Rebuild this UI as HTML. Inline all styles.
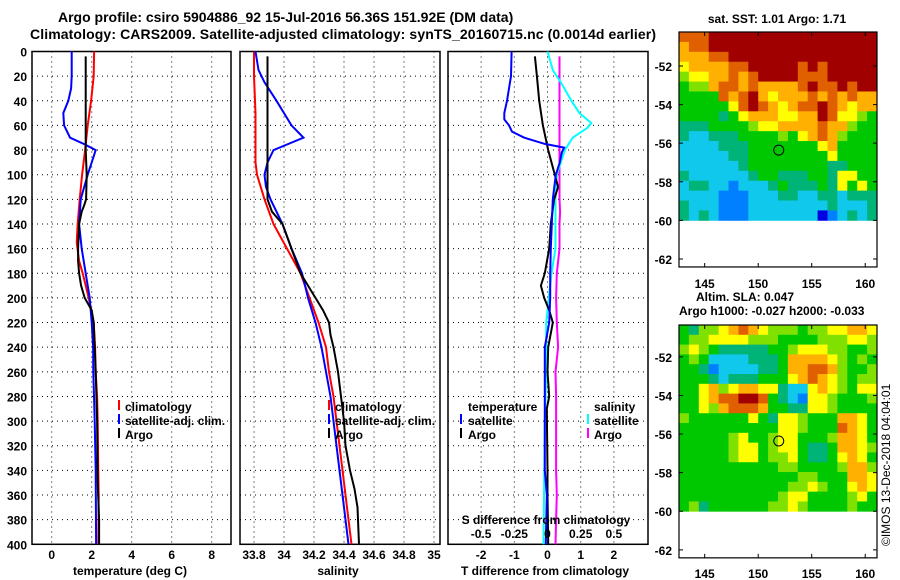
<!DOCTYPE html>
<html><head><meta charset="utf-8"><style>
body{margin:0;background:#fff;}
svg{display:block;font-family:"Liberation Sans",Arial,sans-serif;font-weight:bold;}
</style></head><body>
<svg id="svg" width="900" height="580" viewBox="0 0 900 580">
<text x="58" y="22" font-size="14">Argo profile: csiro 5904886_92 15-Jul-2016 56.36S 151.92E (DM data)</text>
<text x="30" y="39" font-size="14" textLength="626">Climatology: CARS2009. Satellite-adjusted climatology: synTS_20160715.nc (0.0014d earlier)</text>
<g id="grids"></g>
<g id="curves"></g>
<g id="labels" font-size="12"></g>
<text x="130" y="575" font-size="12" text-anchor="middle">temperature (deg C)</text>
<text x="338" y="575" font-size="12" text-anchor="middle">salinity</text>
<text x="545" y="575" font-size="12" text-anchor="middle">T difference from climatology</text>
<text x="546" y="524" font-size="12" text-anchor="middle">S difference from climatology</text>
<!-- legends -->
<g font-size="12">
<rect x="118" y="400" width="2" height="10" fill="#f00"/><text x="125" y="411">climatology</text>
<rect x="118" y="414" width="2" height="10" fill="#00f"/><text x="125" y="425">satellite-adj. clim.</text>
<rect x="118" y="428" width="2" height="10" fill="#000"/><text x="125" y="439">Argo</text>
</g>
<g font-size="12">
<rect x="328" y="400" width="2" height="10" fill="#f00"/><text x="335" y="411">climatology</text>
<rect x="328" y="414" width="2" height="10" fill="#00f"/><text x="335" y="425">satellite-adj. clim.</text>
<rect x="328" y="428" width="2" height="10" fill="#000"/><text x="335" y="439">Argo</text>
</g>
<g font-size="12">
<text x="468" y="411">temperature</text>
<rect x="460" y="414" width="2" height="10" fill="#00f"/><text x="468" y="425">satellite</text>
<rect x="460" y="428" width="2" height="10" fill="#000"/><text x="468" y="439">Argo</text>
<text x="594" y="411">salinity</text>
<rect x="587" y="414" width="2" height="10" fill="#0ff"/><text x="594" y="425">satellite</text>
<rect x="587" y="428" width="2" height="10" fill="#f0f"/><text x="594" y="439">Argo</text>
</g>
<g id="maps"></g>
<text x="777" y="23" font-size="12" text-anchor="middle">sat. SST: 1.01 Argo: 1.71</text>
<text x="696" y="301" font-size="12">Altim. SLA: 0.047</text>
<text x="679" y="315" font-size="12">Argo h1000: -0.027 h2000: -0.033</text>
<text transform="translate(890,546) rotate(-90)" font-size="12" font-weight="normal">©IMOS 13-Dec-2018 04:04:01</text>
</svg>
<script>
// ---------- data ----------
const depthTicks=[0,20,40,60,80,100,120,140,160,180,200,220,240,260,280,300,320,340,360,380,400];
const tTicks=[0,2,4,6,8];
const sTicks=[33.8,34,34.2,34.4,34.6,34.8,35];
const sTickLabels=["33.8","34","34.2","34.4","34.6","34.8","35"];
const dTTicks=[-2,-1,0,1,2];
const dSTicks=[-0.5,-0.25,0,0.25,0.5];
const dSTickLabels=["-0.5","-0.25","0","0.25","0.5"];

const tClimDepth=[0,20,40,60,80,100,120,140,155,170,180,200,220,240,260,280,300,330,360,400];
const tClim=[2.12,2.1,1.97,1.8,1.67,1.52,1.4,1.3,1.25,1.37,1.55,1.85,2.1,2.17,2.2,2.27,2.3,2.32,2.35,2.33];
const tSatDepth=[0,20,30,40,50,60,70,75,80,90,100,120,140,160,180,200,220,240,260,300,340,400];
const tSat=[1.0,1.0,0.97,0.83,0.58,0.62,0.92,1.6,2.2,2.0,1.8,1.45,1.37,1.5,1.7,1.9,2.0,2.07,2.08,2.15,2.2,2.22];
const tArgoDepth=[4,20,60,80,100,120,125,130,140,160,170,180,190,200,210,220,240,260,300,350,380,400];
const tArgo=[1.7,1.7,1.7,1.7,1.75,1.72,1.62,1.5,1.37,1.32,1.32,1.37,1.47,1.65,2.0,2.1,2.15,2.2,2.27,2.3,2.37,2.37];

const sClimDepth=[0,20,50,90,100,120,140,160,180,200,220,240,260,280,300,320,340,360,380,400];
const sClim=[33.8,33.8,33.81,33.81,33.82,33.87,33.93,34.02,34.11,34.17,34.23,34.28,34.3,34.33,34.35,34.37,34.39,34.41,34.43,34.45];
const sSatDepth=[0,15,25,40,60,70,80,90,100,110,120,140,160,180,200,220,240,260,280,300,320,340,360,380,400];
const sSat=[33.81,33.83,33.87,33.95,34.05,34.13,33.93,33.89,33.87,33.88,33.91,33.99,34.05,34.12,34.16,34.21,34.25,34.28,34.31,34.33,34.35,34.37,34.39,34.41,34.43];
const sArgoDepth=[4,120,130,140,160,180,190,200,210,220,230,240,260,280,300,320,340,355,370,400];
const sArgo=[33.89,33.89,33.92,33.99,34.05,34.11,34.16,34.21,34.26,34.3,34.31,34.33,34.36,34.38,34.4,34.41,34.44,34.47,34.49,34.5];

const dTSatDepth=[0,20,30,40,50,55,60,65,70,75,78,82,90,100,120,140,160,180,200,220,240,300,340,360,400];
const dTSat=[-1.08,-1.1,-1.16,-1.22,-1.3,-1.3,-1.16,-1.07,-0.7,-0.08,0.5,0.43,0.37,0.25,0.16,0.13,0.1,0.08,0.08,0.05,-0.08,-0.08,-0.08,-0.02,-0.05];
const dTArgoDepth=[4,20,40,60,80,100,110,120,140,160,180,190,200,210,220,240,260,280,290,340,360,400];
const dTArgo=[-0.38,-0.32,-0.25,-0.14,0.02,0.22,0.32,0.2,0.1,0.05,-0.08,-0.2,-0.1,0.05,0.16,0.02,0,0.05,-0.02,0,0,0.02];
const dSSatDepth=[0,15,25,40,50,58,62,70,80,90,100,120,140,160,180,200,220,260,300,400];
const dSSat=[0,0.04,0.1,0.18,0.24,0.33,0.3,0.19,0.13,0.1,0.07,0.06,0.06,0.06,0.03,0.01,-0.01,-0.01,-0.02,-0.03];
const dSArgoDepth=[4,110,120,130,140,160,180,200,220,240,260,280,300,320,340,360,380,400];
const dSArgo=[0.09,0.09,0.09,0.095,0.09,0.09,0.07,0.065,0.07,0.08,0.06,0.065,0.065,0.065,0.065,0.07,0.065,0.06];

const latTicks=[-52,-54,-56,-58,-60,-62];
const lonTicks=[145,150,155,160];
const argoLon=151.92, argoLat=-56.36;
const sstGrid=[
"88899999999999999999","78899999999999999999","77788999999999999999","67777889999989899999",
"56677878999988899999","45578878777789889899","44448789767778787877","44444689876788987677",
"44443467776677986654","33344445667777877544","32233344445467875444","22223334444444674444",
"22222334444444464444","22222234444444433444","32222223443334436644","23322122234333436464",
"22221112223322332333","32221112222222232223","32321112222222012323"];
const slaGrid=[
"43556787655545566776","45566665554444555665","56543333344566655445","45422223334777765454",
"44312222334778875445","44432333444678765455","44675677663226765466","44678899843216654445",
"44657888744336654444","54444446436654447764","44444444446654448764","44444564456644457764",
"44444566456643347765","44444566455643346764","44444444445544445775","44444444444455444776",
"44444444444556544676","44444444445664444564","45344444455654444544"];
const palette=["#0000e0","#0080ff","#10c8ec","#00b478","#00c800","#80e000","#ffff00","#ffb000","#e06000","#a00000"];

// ---------- scales ----------
const NS="http://www.w3.org/2000/svg";
const yD=d=>51.5+1.232*d;
const xT=v=>51.7+20*v;
const xS=v=>284+150*(v-34);
const xDT=v=>547.5+33.2*v;
const xDS=v=>547.5+132.8*v;
function mk(tag,attrs,parent){const e=document.createElementNS(NS,tag);for(const k in attrs)e.setAttribute(k,attrs[k]);parent.appendChild(e);return e;}
const grids=document.getElementById('grids'),curves=document.getElementById('curves'),labels=document.getElementById('labels'),maps=document.getElementById('maps');

const panels=[{x0:32,x1:231,sc:xT,ticks:tTicks,lab:tTicks.map(String),name:'temperature'},
{x0:240,x1:440,sc:xS,ticks:sTicks,lab:sTickLabels,name:'salinity'},
{x0:448,x1:648,sc:xDT,ticks:dTTicks,lab:dTTicks.map(String),name:'difference'}];
panels.forEach(p=>{
 depthTicks.forEach(d=>{
  if(d>0&&d<400){const g=mk('line',{x1:p.x0,x2:p.x1,y1:yD(d),y2:yD(d),stroke:'#000','stroke-width':1,'stroke-dasharray':'1,4'},grids);
  
  }
 });
 p.ticks.forEach((t,i)=>{
  const x=p.sc(t);
  const g=mk('line',{x1:x,x2:x,y1:yD(0),y2:yD(400),stroke:'#000','stroke-width':1,'stroke-dasharray':'1,4'},grids);
  
  
  const tx=mk('text',{x:x,y:559,'text-anchor':'middle'},labels);tx.textContent=p.lab[i];
  
  
 });
 const r=mk('rect',{x:p.x0,y:yD(0),width:p.x1-p.x0,height:yD(400)-yD(0),fill:'none',stroke:'#000','stroke-width':1.5},grids);
 
 
});
depthTicks.forEach(d=>{
 const t=mk('text',{x:27,y:yD(d)+5,'text-anchor':'end'},labels);t.textContent=String(d);
 
 
});
dSTicks.forEach((v,i)=>{
 const t=mk('text',{x:xDS(v),y:538,'text-anchor':'middle'},labels);t.textContent=dSTickLabels[i];
 
 
});
function curve(depths,vals,sc,color,name){
 const pts=depths.map((d,i)=>sc(vals[i]).toFixed(1)+','+yD(d).toFixed(1)).join(' ');
 const l=mk('polyline',{points:pts,fill:'none',stroke:color,'stroke-width':2},curves);
 
 
}
curve(tClimDepth,tClim,xT,'#f00','temperature-climatology-line');
curve(tSatDepth,tSat,xT,'#00f','temperature-satellite-line');
curve(tArgoDepth,tArgo,xT,'#000','temperature-argo-line');
curve(sClimDepth,sClim,xS,'#f00','salinity-climatology-line');
curve(sSatDepth,sSat,xS,'#00f','salinity-satellite-line');
curve(sArgoDepth,sArgo,xS,'#000','salinity-argo-line');
curve(dSArgoDepth,dSArgo,xDS,'#f0f','s-diff-argo-line');
curve(dSSatDepth,dSSat,xDS,'#0ff','s-diff-satellite-line');
curve(dTArgoDepth,dTArgo,xDT,'#000','t-diff-argo-line');
curve(dTSatDepth,dTSat,xDT,'#00f','t-diff-satellite-line');

// ---------- maps ----------
function drawMap(grid,top,latTop,name,lonLabY){
 const x0=679,x1=877,lonL=142.6,lonR=161.1;
 const lonX=l=>x0+(l-lonL)*(x1-x0)/(lonR-lonL);
 const latY=l=>top+(latTop-l)*19.3;
 const nr=grid.length,nc=grid[0].length,bottomData=latY(-60);
 const cw=(x1-x0)/nc,ch=(bottomData-top)/nr;
 grid.forEach((row,j)=>{for(let i=0;i<nc;i++){
  const c=mk('rect',{x:(x0+i*cw).toFixed(2),y:(top+j*ch).toFixed(2),width:(cw+0.4).toFixed(2),height:(ch+0.4).toFixed(2),fill:palette[+row[i]]},maps);
  
  
 }});
 const yb=latY(-62)+8;
 const f=mk('rect',{x:x0,y:top,width:x1-x0,height:yb-top,fill:'none',stroke:'#000','stroke-width':1.2},maps);
 
 
 latTicks.forEach(l=>{
  const y=latY(l);
  const t=mk('text',{x:672,y:y+5,'text-anchor':'end','font-size':12},maps);t.textContent=String(l);
  
  
  const tk=mk('path',{d:`M${x0},${y}h4M${x1},${y}h-4`,stroke:'#000'},maps);
  
  
 });
 lonTicks.forEach(l=>{
  const x=lonX(l);
  const t=mk('text',{x:x,y:lonLabY,'text-anchor':'middle','font-size':12},maps);t.textContent=String(l);
  
  
  const tk=mk('path',{d:`M${x},${top}v4M${x},${yb}v-4`,stroke:'#000'},maps);
  
  
 });
 const m=mk('circle',{cx:lonX(argoLon),cy:latY(argoLat),r:5,fill:'none',stroke:'#000','stroke-width':1},maps);
 
 
}
drawMap(sstGrid,32,-50.24,'sst-map',288);
drawMap(slaGrid,325,-50.35,'sla-map',578);
</script>
</body></html>
